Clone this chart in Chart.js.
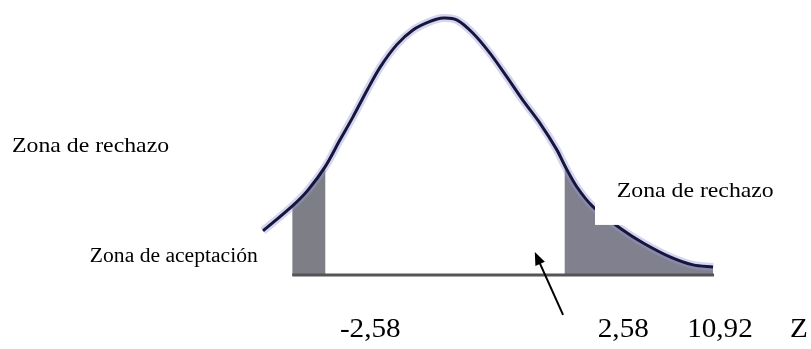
<!DOCTYPE html>
<html>
<head>
<meta charset="utf-8">
<script src="https://cdn.jsdelivr.net/npm/chart.js@4"></script>
<style>
  html, body { margin: 0; padding: 0; background: #fff; }
  #wrap { width: 811px; height: 349px; position: relative; }
</style>
</head>
<body>
<div id="wrap"><canvas id="chart"></canvas></div>
<script>
// curve: z value and relative height (peak = 1)
const curveZ = [-3.93, -3.30, -2.96, -2.58, -2.27, -1.99, -1.68, -1.40, -1.04, -0.69, -0.32, -0.04,
                0.26, 0.60, 0.97, 1.34, 1.68, 2.05, 2.42, 2.58, 2.85, 3.20, 3.84, 4.28, 4.86, 5.36, 5.79];
const curveH = [0.171, 0.267, 0.329, 0.422, 0.523, 0.612, 0.717, 0.806, 0.893, 0.950, 0.983, 0.996,
                0.988, 0.938, 0.860, 0.767, 0.678, 0.589, 0.484, 0.426, 0.341, 0.264, 0.174, 0.124, 0.070, 0.039, 0.031];

// shaded rejection zones (z range)
const leftZone = [-3.30, -2.58];
const rightZone = [2.58, 5.79];
const axisRange = [-3.30, 5.81];

// texts under the axis
const tickLabels = ['-2,58', '2,58', '10,92', 'Z'];
const tickZ = [-2.27, 3.30, 5.23, 7.45];
const zoneLabels = ['Zona de rechazo', 'Zona de aceptación', 'Zona de rechazo'];

const curvePts = curveZ.map((z, i) => ({ x: z, y: curveH[i] }));
const tail = (r) => curvePts.filter(p => p.x >= r[0] - 1e-9 && p.x <= r[1] + 1e-9);

const serif = "'Liberation Serif', 'Times New Roman', serif";

// labels, white box and arrow, all placed through the scales
const notes = {
    id: 'notes',
    afterDatasetsDraw(chart) {
        const ctx = chart.ctx;
        const xs = chart.scales.x, ys = chart.scales.y;
        const X = v => xs.getPixelForValue(v), Y = v => ys.getPixelForValue(v);

        ctx.save();
        // white label box on the right covering the curve
        ctx.fillStyle = '#ffffff';
        ctx.fillRect(X(3.24), Y(0.426), X(7.905) - X(3.24), Y(0.194) - Y(0.426));

        const text = (t, z, h, size) => {
            ctx.save();
            ctx.translate(X(z), Y(h));
            ctx.scale(1.08, 1);
            ctx.font = size + 'px ' + serif;
            ctx.fillStyle = '#000';
            ctx.textBaseline = 'alphabetic';
            ctx.fillText(t, 0, 0);
            ctx.restore();
        };
        text(zoneLabels[0], -9.35, 0.477, 22);
        text(zoneLabels[1], -7.67, 0.050, 20);
        text(zoneLabels[2], 3.71, 0.302, 22);
        tickLabels.forEach((t, i) => text(t, tickZ[i], -0.240, 27));

        // arrow pointing at the acceptance zone
        const x0 = X(2.55), y0 = Y(-0.155), x1 = X(1.94), y1 = Y(0.089);
        const ang = Math.atan2(y1 - y0, x1 - x0);
        ctx.strokeStyle = '#000';
        ctx.lineWidth = 2;
        ctx.beginPath();
        ctx.moveTo(x0, y0);
        ctx.lineTo(x1 - 8 * Math.cos(ang), y1 - 8 * Math.sin(ang));
        ctx.stroke();
        ctx.fillStyle = '#000';
        ctx.beginPath();
        ctx.moveTo(x1, y1);
        ctx.lineTo(x1 - 14 * Math.cos(ang - 0.38), y1 - 14 * Math.sin(ang - 0.38));
        ctx.lineTo(x1 - 14 * Math.cos(ang + 0.38), y1 - 14 * Math.sin(ang + 0.38));
        ctx.closePath();
        ctx.fill();
        ctx.restore();
    }
};

const ctx = document.getElementById('chart').getContext('2d');
const chart = new Chart(ctx, {
    type: 'line',
    data: {
        datasets: [
            {
                data: tail(leftZone),
                borderWidth: 0,
                backgroundColor: 'rgb(126,126,134)',
                fill: 'origin',
                tension: 0.3,
                pointRadius: 0,
                order: 4
            },
            {
                data: tail(rightZone),
                borderWidth: 0,
                backgroundColor: 'rgb(128,128,142)',
                fill: 'origin',
                tension: 0.3,
                pointRadius: 0,
                order: 4
            },
            {
                // axis line
                data: axisRange.map(z => ({ x: z, y: 0 })),
                borderColor: 'rgb(85,85,85)',
                borderWidth: 3,
                pointRadius: 0,
                fill: false,
                order: 3
            },
            {
                // soft halo under the curve
                data: curvePts,
                borderColor: 'rgba(150,150,215,0.4)',
                borderWidth: 8,
                tension: 0.3,
                pointRadius: 0,
                fill: false,
                order: 2
            },
            {
                data: curvePts,
                borderColor: 'rgb(22,22,60)',
                borderWidth: 3,
                tension: 0.3,
                pointRadius: 0,
                fill: false,
                order: 1
            }
        ]
    },
    options: {
        responsive: true,
        maintainAspectRatio: false,
        animation: false,
        layout: { padding: 0 },
        plugins: { legend: { display: false }, tooltip: { enabled: false } },
        scales: {
            x: { type: 'linear', min: -9.611, max: 7.905, display: false },
            y: { min: -0.287, max: 1.066, display: false }
        }
    },
    plugins: [notes]
});
</script>
</body>
</html>
